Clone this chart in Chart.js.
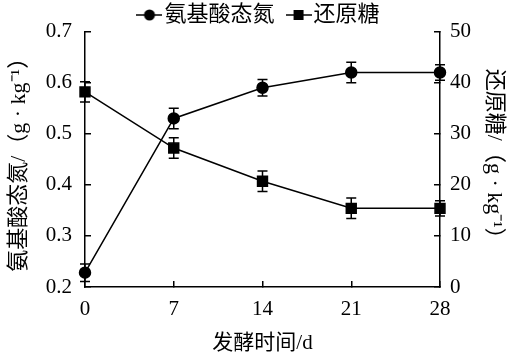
<!DOCTYPE html>
<html>
<head>
<meta charset="utf-8">
<script src="https://cdn.jsdelivr.net/npm/chart.js@4.4.1/dist/chart.umd.min.js"></script>
<style>
  html, body { margin: 0; padding: 0; background: #fff; }
  #c { display: block; }
</style>
</head>
<body>
<canvas id="c" width="507" height="359"></canvas>
<script>
// ---- data ----
const days = [0, 7, 14, 21, 28];
const aminoN = [0.228, 0.53, 0.59, 0.62, 0.62];
const aminoNErr = [0.017, 0.02, 0.016, 0.02, 0.015];
const sugar = [38.2, 27.2, 20.7, 15.4, 15.4];
const sugarErr = [2.0, 2.0, 2.0, 2.0, 1.5];
const seriesNames = ['氨基酸态氮', '还原糖'];
const xTitle = '发酵时间/d';
const yLeftTitle = '氨基酸态氮/（g · kg⁻¹）';
const yRightTitle = '还原糖/（g · kg⁻¹）';
const leftTicks = { min: 0.2, max: 0.7, step: 0.1 };
const rightTicks = { min: 0, max: 50, step: 10 };
const xTicks = { min: 0, max: 28, step: 7 };

const SERIF = "'Liberation Serif', 'Noto Sans CJK SC', serif";
const INK = '#000';

function legendIcon(kind) {
  const c = document.createElement('canvas');
  c.width = 26; c.height = 14;
  const g = c.getContext('2d');
  g.strokeStyle = INK; g.lineWidth = 1.5;
  g.beginPath(); g.moveTo(0, 7); g.lineTo(26, 7); g.stroke();
  g.fillStyle = INK;
  if (kind === 'circle') { g.beginPath(); g.arc(13, 7, 5.5, 0, Math.PI * 2); g.fill(); }
  else { g.fillRect(8, 2, 10, 10); }
  return c;
}
const icons = [legendIcon('circle'), legendIcon('rect')];

const errorBars = {
  id: 'errorBars',
  afterDatasetsDraw(chart) {
    const ctx = chart.ctx;
    const xs = chart.scales.x;
    chart.data.datasets.forEach((ds, i) => {
      const ys = chart.scales[ds.yAxisID];
      ctx.save();
      ctx.strokeStyle = INK;
      ctx.lineWidth = 1.5;
      ds.data.forEach((pt, j) => {
        const e = ds.errors[j];
        const x = xs.getPixelForValue(pt.x);
        const yTop = ys.getPixelForValue(pt.y + e);
        const yBot = ys.getPixelForValue(pt.y - e);
        ctx.beginPath();
        ctx.moveTo(x, yTop); ctx.lineTo(x, yBot);
        ctx.moveTo(x - 5, yTop); ctx.lineTo(x + 5, yTop);
        ctx.moveTo(x - 5, yBot); ctx.lineTo(x + 5, yBot);
        ctx.stroke();
      });
      ctx.restore();
    });
  }
};

const legendShift = {
  id: 'legendShift',
  afterLayout(chart) {
    const l = chart.legend;
    if (!l) return;
    const h = l.height;
    l.top = 15 - 20 - 11;
    l.bottom = l.top + h;
    l.left += 9;
    l.right += 9;
  }
};

new Chart(document.getElementById('c'), {
  type: 'line',
  data: {
    datasets: [
      {
        label: seriesNames[0],
        data: days.map((d, i) => ({ x: d, y: aminoN[i] })),
        errors: aminoNErr,
        yAxisID: 'y',
        borderColor: INK, backgroundColor: INK,
        borderWidth: 1.5,
        pointStyle: 'circle', pointRadius: 5.5,
        pointBackgroundColor: INK, pointBorderColor: INK,
        tension: 0, fill: false, clip: false
      },
      {
        label: seriesNames[1],
        data: days.map((d, i) => ({ x: d, y: sugar[i] })),
        errors: sugarErr,
        yAxisID: 'y2',
        borderColor: INK, backgroundColor: INK,
        borderWidth: 1.5,
        pointStyle: 'rect', pointRadius: 7,
        pointBackgroundColor: INK, pointBorderColor: INK,
        tension: 0, fill: false, clip: false
      }
    ]
  },
  options: {
    responsive: false,
    animation: false,
    devicePixelRatio: 1,
    layout: { padding: { top: -50, left: 0, right: 0, bottom: 0 } },
    plugins: {
      tooltip: { enabled: false },
      legend: {
        display: true,
        position: 'top',
        labels: {
          usePointStyle: true,
          pointStyleWidth: 8,
          padding: 20,
          color: INK,
          font: { family: SERIF, size: 22 },
          generateLabels(chart) {
            const items = Chart.defaults.plugins.legend.labels.generateLabels(chart);
            items.forEach((it, i) => { it.pointStyle = icons[i]; });
            return items;
          }
        }
      }
    },
    scales: {
      x: {
        type: 'linear',
        min: xTicks.min, max: xTicks.max,
        afterFit(s) { s.height = 72; },
        border: { display: true, color: INK, width: 1.5 },
        grid: { display: true, drawOnChartArea: false, tickLength: -6, color: INK, lineWidth: 1.5 },
        ticks: { stepSize: xTicks.step, color: INK, padding: 16, font: { family: SERIF, size: 21 } },
        title: { display: true, text: xTitle, color: INK, font: { family: SERIF, size: 21, lineHeight: 1.2 }, padding: { top: 0, bottom: 3 } }
      },
      y: {
        type: 'linear', position: 'left',
        min: leftTicks.min, max: leftTicks.max,
        afterFit(s) { s.width = 85; },
        border: { display: true, color: INK, width: 1.5 },
        grid: { display: true, drawOnChartArea: false, tickLength: -6, color: INK, lineWidth: 1.5 },
        ticks: { stepSize: leftTicks.step, color: INK, padding: 19, font: { family: SERIF, size: 21 },
                 callback: v => v.toFixed(1) },
        title: { display: true, text: yLeftTitle, color: INK, font: { family: SERIF, size: 22, lineHeight: 1.2 }, padding: { top: 6, bottom: 0 } }
      },
      y2: {
        type: 'linear', position: 'right',
        min: rightTicks.min, max: rightTicks.max,
        afterFit(s) { s.width = 67; },
        border: { display: true, color: INK, width: 1.5 },
        grid: { display: true, drawOnChartArea: false, tickLength: -6, color: INK, lineWidth: 1.5 },
        ticks: { stepSize: rightTicks.step, color: INK, padding: 16, font: { family: SERIF, size: 21 } },
        title: { display: true, text: yRightTitle, color: INK, font: { family: SERIF, size: 22, lineHeight: 1.2 }, padding: { top: 0, bottom: 0 } }
      }
    }
  },
  plugins: [errorBars, legendShift]
});
</script>
</body>
</html>
